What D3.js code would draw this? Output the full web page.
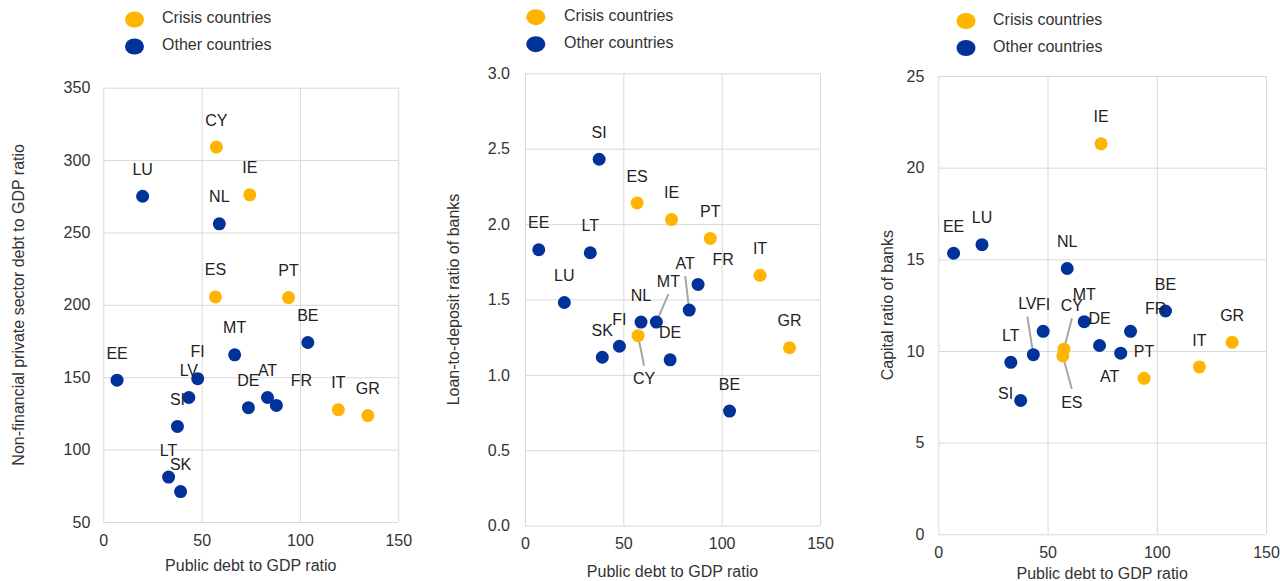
<!DOCTYPE html>
<html>
<head>
<meta charset="utf-8">
<script src="https://cdn.jsdelivr.net/npm/d3@7"></script>
<style>
  body { margin: 0; background: #fff; }
  svg { font-family: "Liberation Sans", Arial, sans-serif; }
  .grid line { stroke: #d9d9d9; stroke-width: 1; }
  .grid .domain { display: none; }
  .grid text { fill: #333; font-size: 16px; }
  .title { fill: #333; font-size: 16px; }
  .lbl { fill: #222; font-size: 16px; }
  .legend text { fill: #333; font-size: 16px; }
  .leader { stroke: #a6a6a6; stroke-width: 2; }
</style>
</head>
<body>
<svg id="chart" width="1280" height="581"></svg>
<script>
// data
const countries   = ['AT','BE','CY','DE','EE','ES','FI','FR','GR','IE','IT','LT','LU','LV','MT','NL','PT','SI','SK'];
const crisis      = ['CY','ES','GR','IE','IT','PT'];
const publicDebt  = [83.5, 104, 57.5, 73.8, 7, 57, 48, 88, 134.5, 74.5, 119.5, 33.2, 20, 43.5, 66.8, 59, 94.2, 37.7, 39.3];
const privateDebt = [136, 174, 309, 129, 148, 205.5, 149, 130.5, 123.5, 276, 127.6, 81, 275, 136, 165.5, 256, 205, 116, 71];
const loanDeposit = [1.43, 0.76, 1.26, 1.10, 1.83, 2.14, 1.19, 1.60, 1.18, 2.03, 1.66, 1.81, 1.48, null, 1.35, 1.35, 1.905, 2.43, 1.117];
const capitalRatio = [9.88, 12.18, 10.1, 10.3, 15.33, 9.73, 11.07, 11.07, 10.47, 21.3, 9.13, 9.38, 15.8, 9.8, 11.6, 14.5, 8.51, 7.3, null];

const xTicks       = [0, 50, 100, 150];
const privateTicks = [50, 100, 150, 200, 250, 300, 350];
const loanTicks    = [0, 0.5, 1, 1.5, 2, 2.5, 3];
const capitalTicks = [0, 5, 10, 15, 20, 25];
const legendItems  = ['Crisis countries', 'Other countries'];

const ORANGE = '#ffb400', BLUE = '#003299';

// layout of each panel
const panels = [
  { values: privateDebt, yTicks: privateTicks, fmt: d3.format('d'),
    yTitle: 'Non-financial private sector debt to GDP ratio',
    left: 103.3, right: 398.3, top: 87.7, bottom: 522,
    xPad: 13, yPad: 13, yTitleX: 18, xTitleY: 565, legend: [134.5, 19.5, 162],
    offsets: { FR: [25, -25] }, leaders: [] },
  { values: loanDeposit, yTicks: loanTicks, fmt: d3.format('.1f'),
    yTitle: 'Loan-to-deposit ratio of banks',
    left: 525, right: 820, top: 73.3, bottom: 525.7,
    xPad: 12, yPad: 15, yTitleX: 453, xTitleY: 571.5, legend: [535.8, 17.2, 564],
    offsets: { FR: [25, -25], AT: [-4, -47], MT: [12, -41], CY: [6, 43] },
    leaders: ['AT', 'MT', 'CY'] },
  { values: capitalRatio, yTicks: capitalTicks, fmt: d3.format('d'),
    yTitle: 'Capital ratio of banks',
    left: 938.3, right: 1266, top: 76, bottom: 534.3,
    xPad: 12, yPad: 14, yTitleX: 887, xTitleY: 573.5, legend: [966, 21, 993],
    offsets: { FR: [25, -23], AT: [-11, 23], CY: [8, -44], ES: [9, 46], LV: [-6, -51], SI: [-15, -7] },
    leaders: ['CY', 'ES', 'LV'] }
];

const svg = d3.select('#chart');

panels.forEach(p => {
  const x = d3.scaleLinear().domain([0, 150]).range([p.left, p.right]);
  const y = d3.scaleLinear().domain(d3.extent(p.yTicks)).range([p.bottom, p.top]);
  const g = svg.append('g');

  g.append('g')
      .attr('class', 'grid')
      .attr('transform', `translate(0,${p.bottom})`)
      .call(d3.axisBottom(x).tickValues(xTicks).tickFormat(d3.format('d'))
        .tickSize(-(p.bottom - p.top)).tickPadding(p.xPad));

  g.append('g')
      .attr('class', 'grid')
      .attr('transform', `translate(${p.left},0)`)
      .call(d3.axisLeft(y).tickValues(p.yTicks).tickFormat(p.fmt)
        .tickSize(-(p.right - p.left)).tickPadding(p.yPad));

  const pts = countries
    .map((c, i) => ({ c, x: publicDebt[i], y: p.values[i], crisis: crisis.includes(c) }))
    .filter(d => d.y != null);

  const off = d => p.offsets[d.c] || [0, -27];

  // leader lines
  g.selectAll('line.leader')
    .data(pts.filter(d => p.leaders.includes(d.c)))
    .join('line')
      .attr('class', 'leader')
      .attr('x1', d => x(d.x))
      .attr('y1', d => y(d.y))
      .attr('x2', d => x(d.x) + off(d)[0])
      .attr('y2', d => y(d.y) + off(d)[1] + (off(d)[1] < 0 ? 13 : -13));

  g.selectAll('circle.pt')
    .data(pts)
    .join('circle')
      .attr('class', 'pt')
      .attr('cx', d => x(d.x))
      .attr('cy', d => y(d.y))
      .attr('r', 6.5)
      .attr('fill', d => d.crisis ? ORANGE : BLUE);

  g.selectAll('text.lbl')
    .data(pts)
    .join('text')
      .attr('class', 'lbl')
      .attr('text-anchor', 'middle')
      .attr('dy', '0.35em')
      .attr('x', d => x(d.x) + off(d)[0])
      .attr('y', d => y(d.y) + off(d)[1])
      .text(d => d.c);

  g.append('text')
      .attr('class', 'title')
      .attr('text-anchor', 'middle')
      .attr('dy', '0.35em')
      .attr('x', (p.left + p.right) / 2)
      .attr('y', p.xTitleY)
      .text('Public debt to GDP ratio');

  g.append('text')
      .attr('class', 'title')
      .attr('text-anchor', 'middle')
      .attr('dy', '0.35em')
      .attr('transform', `translate(${p.yTitleX},${(p.top + p.bottom) / 2}) rotate(-90)`)
      .text(p.yTitle);

  const lg = g.append('g').attr('class', 'legend');
  legendItems.forEach((t, i) => {
    const cy = p.legend[1] + i * 27;
    lg.append('ellipse')
        .attr('cx', p.legend[0]).attr('cy', cy)
        .attr('rx', 9.5).attr('ry', 8)
        .attr('fill', i === 0 ? ORANGE : BLUE);
    lg.append('text')
        .attr('x', p.legend[2]).attr('y', cy - 2)
        .attr('dy', '0.35em')
        .text(t);
  });
});
</script>
</body>
</html>
